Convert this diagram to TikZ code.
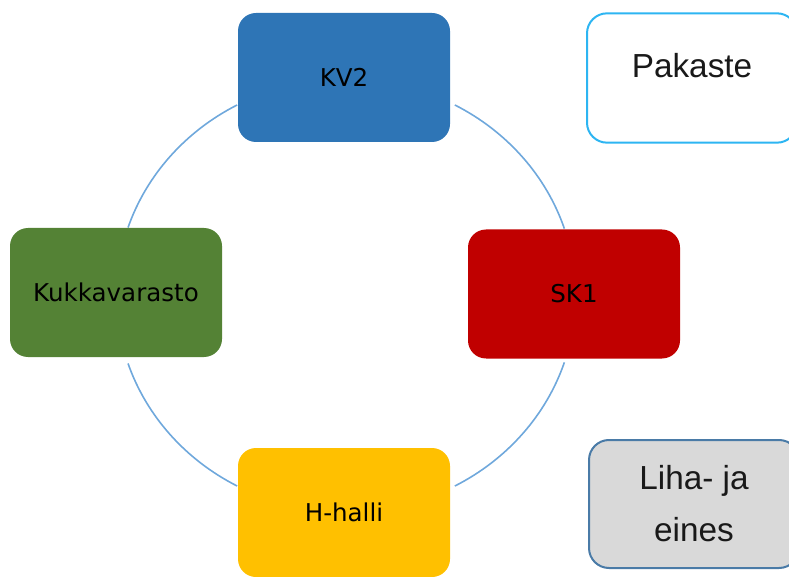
\documentclass[tikz,border=0pt]{standalone}
\usepackage{fontspec}
\setmainfont{Liberation Sans}
\newfontfamily\cyclefont{DejaVu Sans}

\definecolor{kvblue}{HTML}{2E75B6}
\definecolor{skred}{HTML}{C00000}
\definecolor{kkgreen}{HTML}{548235}
\definecolor{hhyellow}{HTML}{FFC000}
\definecolor{ringblue}{HTML}{6FA8DC}
\definecolor{pakborder}{HTML}{2DB5F2}
\definecolor{lihaborder}{HTML}{4A7BA7}
\definecolor{lihafill}{HTML}{D9D9D9}

\tikzset{
  stage/.style={rectangle, rounded corners=13.5pt, minimum width=159pt,
    minimum height=96.75pt, inner sep=0pt, text=black,
    font=\cyclefont\fontsize{18.4}{22}\selectfont},
  sidebox/.style={rectangle, rounded corners=15pt, minimum width=157.5pt,
    minimum height=97pt, inner sep=0pt, line width=1.5pt, text=black!90,
    font=\fontsize{25}{39}\selectfont, align=center},
  ring/.style={draw=ringblue, line width=1.2pt}
}

\begin{document}
\begin{tikzpicture}[x=0.75pt, y=-0.75pt]
\useasboundingbox (0,0) rectangle (789,577);
\clip (0,0) rectangle (789,577);

% centre of the cycle ring
\coordinate (hub) at (346,295.5);

% ring segments between the stages
\foreach \a/\b in {18/61.7, 118.3/161.7, 198.3/241.7, 298.3/342}
  \draw[ring] ([shift={(\a:229.6 and 216.4)}]hub)
    arc[start angle=\a, end angle=\b, x radius=229.6, y radius=216.4];

% cycle stages
\node[stage, fill=kvblue]   (kv2)    at (344,77.5)  {KV2};
\node[stage, fill=skred]    (sk1)    at (574,294)   {SK1};
\node[stage, fill=hhyellow] (hhalli) at (344,512.5) {H-halli};
\node[stage, fill=kkgreen]  (kukka)  at (116,292.5) {Kukkavarasto};

% side boxes
\node[sidebox, draw=pakborder, fill=white, text height=18pt, text depth=18pt]
  (pakaste) at (692,78) {Pakaste};
\node[sidebox, draw=lihaborder, fill=lihafill, minimum height=96pt]
  (liha) at (694,504) {Liha- ja\\eines};
\end{tikzpicture}
\end{document}
